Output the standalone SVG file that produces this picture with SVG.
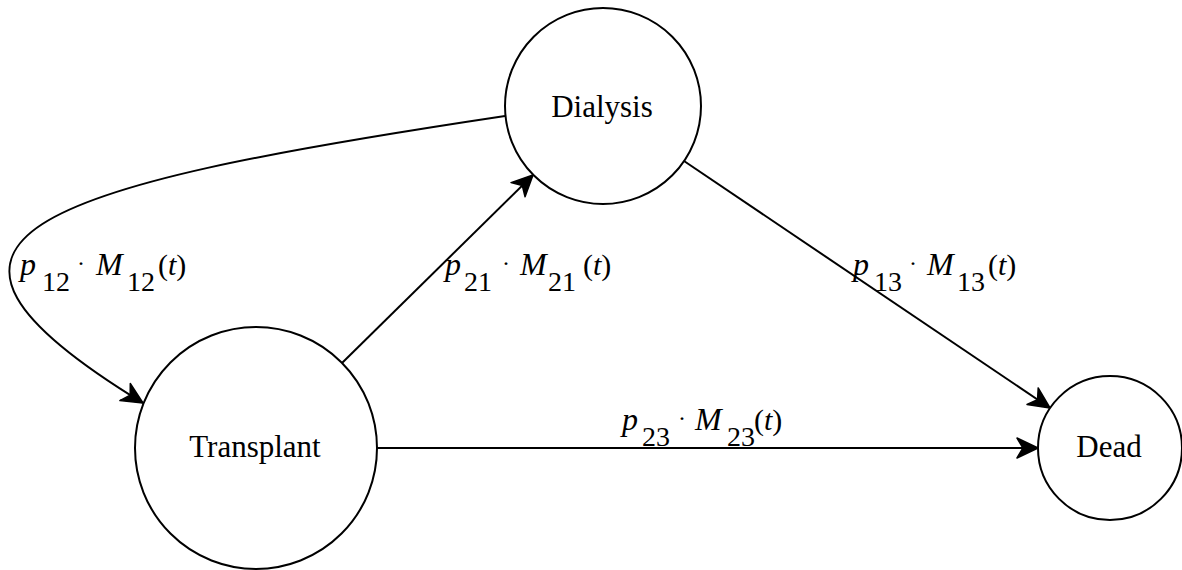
<svg xmlns="http://www.w3.org/2000/svg" width="1182" height="570" viewBox="0 0 1182 570">
<style>
.node{fill:#fff;stroke:#000;stroke-width:2}
.nl{font-family:"Liberation Serif","Times New Roman",serif;font-size:31px;fill:#000;text-anchor:middle}
.edge{fill:none;stroke:#000;stroke-width:2}
.lab{font-family:"Liberation Serif","Times New Roman",serif;fill:#000}
.it{font-style:italic;font-size:32px}
.sb{font-size:28px}
.dt{font-size:24px}
.pa{font-size:30px}
</style>
<defs>
<marker id="arr" markerUnits="userSpaceOnUse" markerWidth="30" markerHeight="30" viewBox="-26 -14 30 28" refX="0" refY="0" orient="auto">
<path d="M0,0 L-21,-10 L-15,0 L-21,10 Z" fill="#000" stroke="#000" stroke-width="1.5" stroke-linejoin="round"/>
</marker>
</defs>
<rect width="1182" height="570" fill="#fff"/>
<g id="connectors">
<path class="edge" d="M505,116 C25,188 -129,237 143,403" marker-end="url(#arr)"/>
<line class="edge" x1="342" y1="363" x2="533" y2="175" marker-end="url(#arr)"/>
<line class="edge" x1="684" y1="161" x2="1050" y2="408" marker-end="url(#arr)"/>
<line class="edge" x1="377" y1="448" x2="1038" y2="448" marker-end="url(#arr)"/>
</g>
<g id="labels" class="lab">
<text><tspan class="it" x="20" y="275">p</tspan><tspan class="sb" x="42" y="291">12</tspan><tspan class="dt" x="77" y="271">·</tspan><tspan class="it" x="96" y="275">M</tspan><tspan class="sb" x="127" y="291">12</tspan><tspan class="pa" x="158" y="275">(<tspan font-style="italic">t</tspan>)</tspan></text>
<text><tspan class="it" x="445" y="275">p</tspan><tspan class="sb" x="464" y="291">21</tspan><tspan class="dt" x="502" y="271">·</tspan><tspan class="it" x="520" y="275">M</tspan><tspan class="sb" x="548" y="291">21</tspan><tspan class="pa" x="583" y="275">(<tspan font-style="italic">t</tspan>)</tspan></text>
<text><tspan class="it" x="853" y="275">p</tspan><tspan class="sb" x="874" y="291">13</tspan><tspan class="dt" x="909" y="271">·</tspan><tspan class="it" x="927" y="275">M</tspan><tspan class="sb" x="957" y="291">13</tspan><tspan class="pa" x="988" y="275">(<tspan font-style="italic">t</tspan>)</tspan></text>
<text><tspan class="it" x="622" y="430">p</tspan><tspan class="sb" x="642" y="446">23</tspan><tspan class="dt" x="678" y="426">·</tspan><tspan class="it" x="695" y="430">M</tspan><tspan class="sb" x="727" y="446">23</tspan><tspan class="pa" x="754" y="430">(<tspan font-style="italic">t</tspan>)</tspan></text>
</g>
<g id="dialysis">
<circle class="node" cx="603" cy="106" r="98"/>
<text class="nl" x="602" y="117">Dialysis</text>
</g>
<g id="transplant">
<circle class="node" cx="256" cy="448" r="121"/>
<text class="nl" x="255" y="457">Transplant</text>
</g>
<g id="dead">
<circle class="node" cx="1110" cy="448" r="72"/>
<text class="nl" x="1109" y="457">Dead</text>
</g>
</svg>
